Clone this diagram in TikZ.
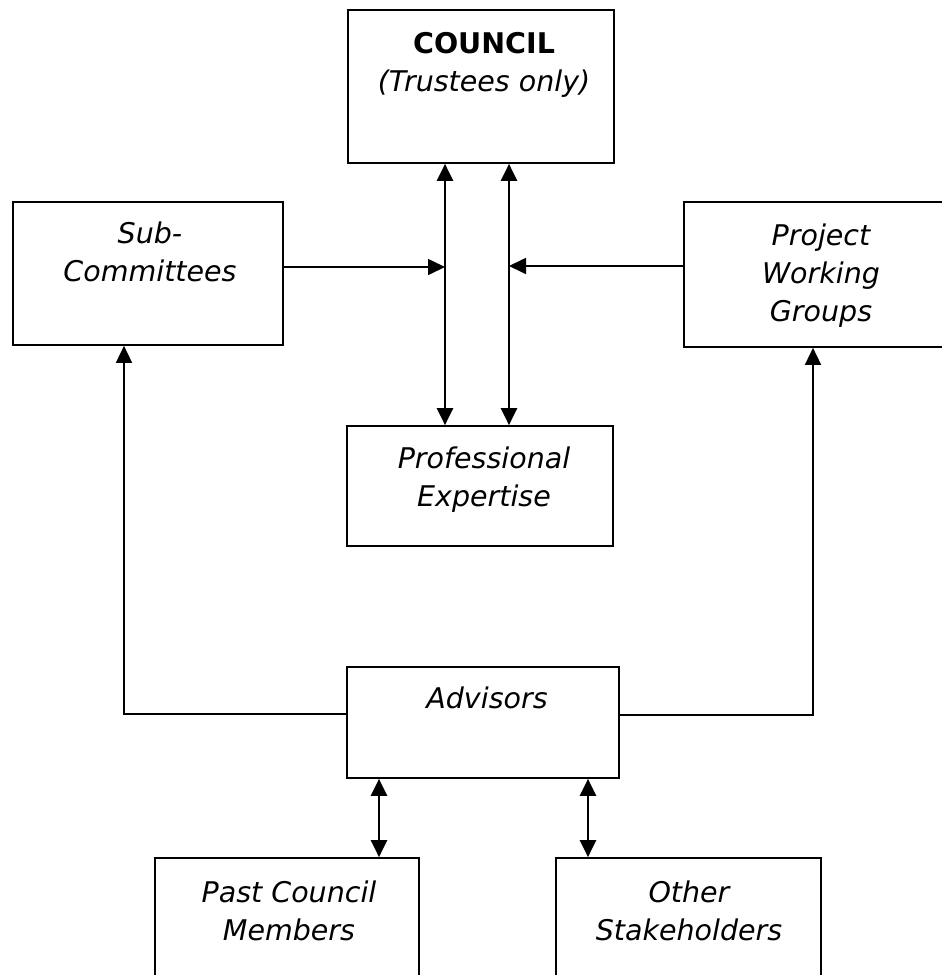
\documentclass[tikz,border=0pt]{standalone}
\usepackage{fontspec}
\setmainfont{DejaVu Sans}
\usetikzlibrary{arrows.meta}
\newcommand\mylines[1]{\parbox[t]{400pt}{\centering #1}}
\tikzset{
  box/.style={draw, line width=1.7pt, inner sep=0pt, fill=white},
  txt/.style={font=\fontsize{28.5}{38}\selectfont\itshape, inner sep=0pt, anchor=base},
  arr/.style={line width=1.7pt, -{Triangle[length=17pt,width=16pt]}},
  dbl/.style={line width=2.4pt, {Triangle[length=17pt,width=16pt]}-{Triangle[length=17pt,width=16pt]}},
}
\begin{document}
\begin{tikzpicture}[x=1pt,y=-1pt]
\useasboundingbox (0,0) rectangle (942,975);
\clip (0,0) rectangle (942,975);
% boxes
\node[box, minimum width=266pt, minimum height=153pt] (council) at (481,86.5) {};
\node[box, minimum width=270pt, minimum height=143pt] (sub) at (148,273.5) {};
\node[box, minimum width=274pt, minimum height=145pt] (pwg) at (821,274.5) {};
\node[box, minimum width=266pt, minimum height=120pt] (pe) at (480,486) {};
\node[box, minimum width=272pt, minimum height=111pt] (adv) at (483,722.5) {};
\node[box, minimum width=264pt, minimum height=137pt] (past) at (287,926.5) {};
\node[box, minimum width=265pt, minimum height=137pt] (other) at (688.5,926.5) {};
% texts
\node[txt] (council-t) at (484,53) {\mylines{{\upshape\bfseries COUNCIL}\\(Trustees only)}};
\node[txt] (sub-t) at (150,243) {\mylines{Sub-\\Committees}};
\node[txt] (pwg-t) at (821,245) {\mylines{Project\\Working\\Groups}};
\node[txt] (pe-t) at (484,468) {\mylines{Professional\\Expertise}};
\node[txt] (adv-t) at (487,708) {\mylines{Advisors}};
\node[txt] (past-t) at (289,902) {\mylines{Past Council\\Members}};
\node[txt] (other-t) at (689,902) {\mylines{Other\\Stakeholders}};
% helper coordinates
\coordinate (v1) at (445,267);
\coordinate (v2) at (509,266);
\coordinate (l1) at (124,714);
\coordinate (r1) at (813,715);
\coordinate (b1) at (379,800);
\coordinate (b2) at (588,800);
% connectors
\draw[dbl] (council.south -| v1) -- (pe.north -| v1);
\draw[dbl] (council.south -| v2) -- (pe.north -| v2);
\draw[arr] (sub.east |- v1) -- (v1);
\draw[arr] (pwg.west |- v2) -- (v2);
\draw[arr] (adv.west |- l1) -- (l1) -- (sub.south -| l1);
\draw[arr] (adv.east |- r1) -- (r1) -- (pwg.south -| r1);
\draw[dbl] (adv.south -| b1) -- (past.north -| b1);
\draw[dbl] (adv.south -| b2) -- (other.north -| b2);
\end{tikzpicture}
\end{document}
